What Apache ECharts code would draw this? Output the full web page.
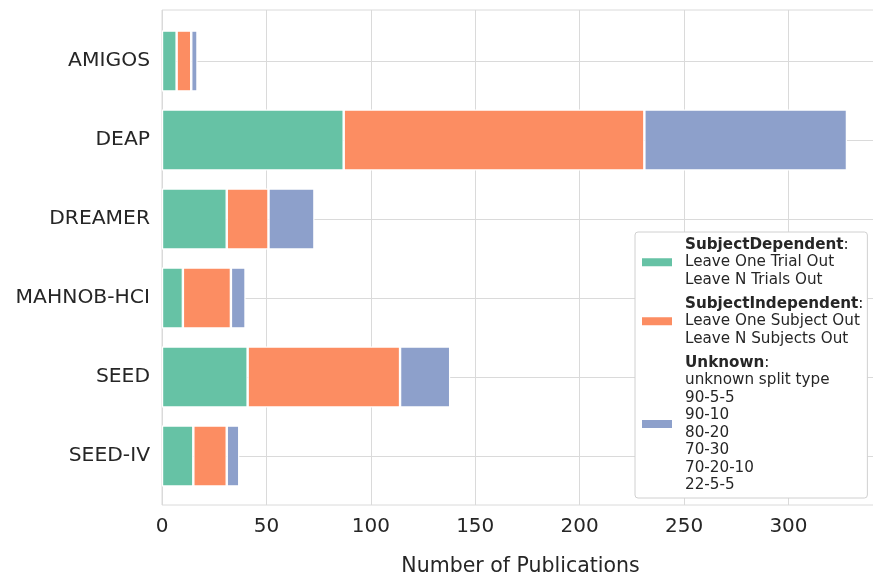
<!DOCTYPE html>
<html>
<head>
<meta charset="utf-8">
<script src="https://cdn.jsdelivr.net/npm/echarts@6/dist/echarts.min.js"></script>
<style>
  html, body { margin: 0; padding: 0; background: #fff; }
  #chart { width: 873px; height: 575px; }
</style>
</head>
<body>
<div id="chart"></div>
<script>
const categories = ['AMIGOS', 'DEAP', 'DREAMER', 'MAHNOB-HCI', 'SEED', 'SEED-IV'];
const subjectDependent = [7, 87, 31, 10, 41, 15];
const subjectIndependent = [7, 144, 20, 23, 73, 16];
const unknown = [3, 97, 22, 7, 24, 6];
const seriesNames = ['SubjectDependent', 'SubjectIndependent', 'Unknown'];
const legendDetails = [
  ['Leave One Trial Out', 'Leave N Trials Out'],
  ['Leave One Subject Out', 'Leave N Subjects Out'],
  ['unknown split type', '90-5-5', '90-10', '80-20', '70-30', '70-20-10', '22-5-5']
];
const colors = ['#66c2a5', '#fc8d62', '#8da0cb'];
const axisTitle = 'Number of Publications';
const xMax = 343.35;
const xInterval = 50;

const FONT = 'DejaVu Sans';
const TEXT = '#262626';
const GRID = '#dadada';

const chart = echarts.init(document.getElementById('chart'), null, { renderer: 'canvas' });

const valuesBySeries = [subjectDependent, subjectIndependent, unknown];

const option = {
  animation: false,
  backgroundColor: '#fff',
  textStyle: { fontFamily: FONT },
  grid: [
    { left: 162, width: 717, top: 10, height: 495, outerBoundsMode: 'none', containLabel: false,
      show: true, borderColor: GRID, borderWidth: 1, backgroundColor: 'transparent' },
    { left: 162, width: 717, top: 61, height: 395, outerBoundsMode: 'none', containLabel: false, show: false }
  ],
  xAxis: [
    {
      type: 'value', gridIndex: 0, min: 0, max: xMax, interval: xInterval,
      axisLine: { show: false }, axisTick: { show: false },
      splitLine: { show: true, lineStyle: { color: GRID, width: 1 } },
      axisLabel: { fontFamily: FONT, fontSize: 20, color: TEXT, margin: 12, showMaxLabel: false },
      name: axisTitle, nameLocation: 'middle', nameGap: 51,
      nameTextStyle: { fontFamily: FONT, fontSize: 20.5, color: TEXT }
    },
    { type: 'value', gridIndex: 1, min: 0, max: xMax, show: false }
  ],
  yAxis: [
    { type: 'value', gridIndex: 0, min: 0, max: 1, show: false },
    {
      type: 'category', gridIndex: 1, data: categories, inverse: true, boundaryGap: false,
      axisLine: { show: false }, axisTick: { show: false },
      splitLine: { show: true, lineStyle: { color: GRID, width: 1 } },
      axisLabel: { fontFamily: FONT, fontSize: 20.3, color: TEXT, margin: 12 }
    }
  ],
  legend: {
    orient: 'vertical',
    left: 635, top: 232,
    padding: [4, 4, 4, 7],
    backgroundColor: '#fff',
    borderColor: '#d0d0d0', borderWidth: 1, borderRadius: 3,
    icon: 'rect', itemWidth: 30, itemHeight: 8, itemGap: 6.5,
    itemStyle: { borderWidth: 0 },
    data: seriesNames,
    formatter: function (name) {
      const i = seriesNames.indexOf(name);
      return '{b|' + name + '}{n|:}\n' + legendDetails[i].map(function (s) { return '{n|' + s + '}'; }).join('\n');
    },
    textStyle: {
      fontFamily: FONT, fontSize: 15.2, color: TEXT, lineHeight: 17.5,
      padding: [0, 0, 0, 8],
      rich: {
        b: { fontFamily: FONT, fontSize: 15.2, fontWeight: 'bold', color: TEXT, lineHeight: 17.5 },
        n: { fontFamily: FONT, fontSize: 15.2, color: TEXT, lineHeight: 17.5 }
      }
    }
  },
  series: seriesNames.map(function (name, i) {
    return {
      name: name, type: 'bar', stack: 'total',
      xAxisIndex: 1, yAxisIndex: 1,
      barWidth: 61, clip: false,
      itemStyle: { color: colors[i], borderColor: '#ffffff', borderWidth: 1.2 },
      emphasis: { disabled: true },
      data: valuesBySeries[i]
    };
  })
};

chart.setOption(option);
</script>
</body>
</html>
